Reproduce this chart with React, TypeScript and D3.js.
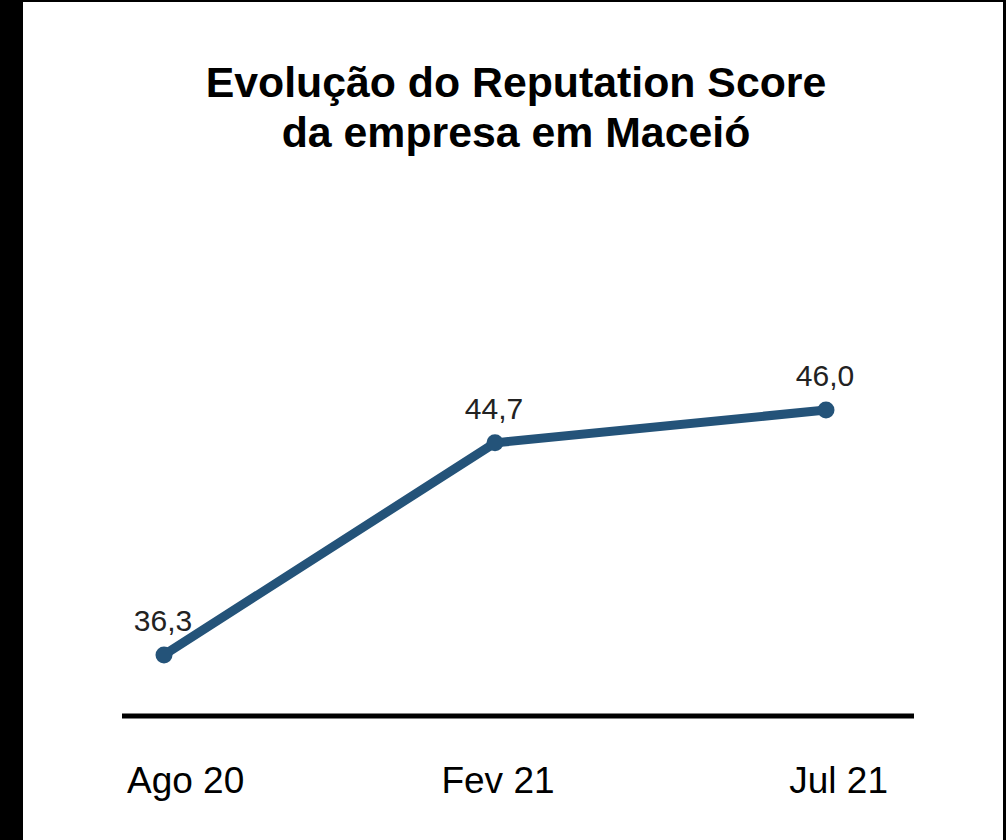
import React, { useEffect, useRef } from 'react';
import * as d3 from 'd3';

const periods = ['Ago 20', 'Fev 21', 'Jul 21'];
const scores = [36.3, 44.7, 46.0];
const titleLines = ['Evolução do Reputation Score', 'da empresa em Maceió'];

const width = 1008;
const height = 840;
const lineColor = '#245379';
const font = '"Liberation Sans", Arial, Helvetica, sans-serif';

const App = () => {
  const svgRef = useRef<SVGSVGElement>(null);

  useEffect(() => {
    const svg = d3.select(svgRef.current);
    svg.selectAll('*').remove();

    // frame
    svg.append('rect').attr('width', width).attr('height', height).attr('fill', '#000');
    svg.append('rect').attr('x', 23).attr('y', 2).attr('width', 980).attr('height', height).attr('fill', '#fff');
    svg.append('rect').attr('x', 1006).attr('y', 0).attr('width', 2).attr('height', height).attr('fill', '#fff');

    const xScale = d3.scalePoint<string>().domain(periods).range([164, 826]);
    const yScale = d3.scaleLinear().domain([33.8, 54.4]).range([718, 198]);

    // title
    svg
      .append('text')
      .attr('x', 516)
      .attr('y', 97)
      .attr('text-anchor', 'middle')
      .style('font-family', font)
      .style('font-weight', 'bold')
      .style('font-size', '42.8px')
      .selectAll('tspan')
      .data(titleLines)
      .enter()
      .append('tspan')
      .attr('x', 516)
      .attr('dy', (d, i) => (i === 0 ? 0 : 50))
      .text((d) => d);

    // baseline axis
    svg
      .append('line')
      .attr('x1', 122)
      .attr('x2', 914)
      .attr('y1', 716)
      .attr('y2', 716)
      .attr('stroke', '#000')
      .attr('stroke-width', 5);

    const data = periods.map((p, i) => [p, scores[i]] as [string, number]);

    const line = d3
      .line<[string, number]>()
      .x((d) => xScale(d[0]) as number)
      .y((d) => yScale(d[1]));

    svg
      .append('path')
      .datum(data)
      .attr('d', line)
      .style('fill', 'none')
      .style('stroke', lineColor)
      .style('stroke-width', 9)
      .style('stroke-linejoin', 'round');

    svg
      .append('g')
      .selectAll('circle')
      .data(data)
      .enter()
      .append('circle')
      .attr('cx', (d) => xScale(d[0]) as number)
      .attr('cy', (d) => yScale(d[1]))
      .attr('r', 8.5)
      .style('fill', lineColor);

    svg
      .append('g')
      .selectAll('text')
      .data(data)
      .enter()
      .append('text')
      .attr('x', (d) => (xScale(d[0]) as number) - 1)
      .attr('y', (d) => yScale(d[1]) - 24)
      .attr('text-anchor', 'middle')
      .style('font-family', font)
      .style('font-size', '30px')
      .style('fill', '#222')
      .text((d) => d[1].toFixed(1).replace('.', ','));

    // category labels
    const anchors = ['start', 'middle', 'end'];
    const offsets = [-37, 3, 62];
    svg
      .append('g')
      .selectAll('text')
      .data(periods)
      .enter()
      .append('text')
      .attr('x', (d, i) => (xScale(d) as number) + offsets[i])
      .attr('y', 793)
      .attr('text-anchor', (d, i) => anchors[i])
      .style('font-family', font)
      .style('font-size', '37px')
      .style('fill', '#000')
      .text((d) => d);
  }, []);

  return (
    <svg
      ref={svgRef}
      width={width}
      height={height}
      style={{ position: 'absolute', left: 0, top: 0 }}
    />
  );
};

export default App;
